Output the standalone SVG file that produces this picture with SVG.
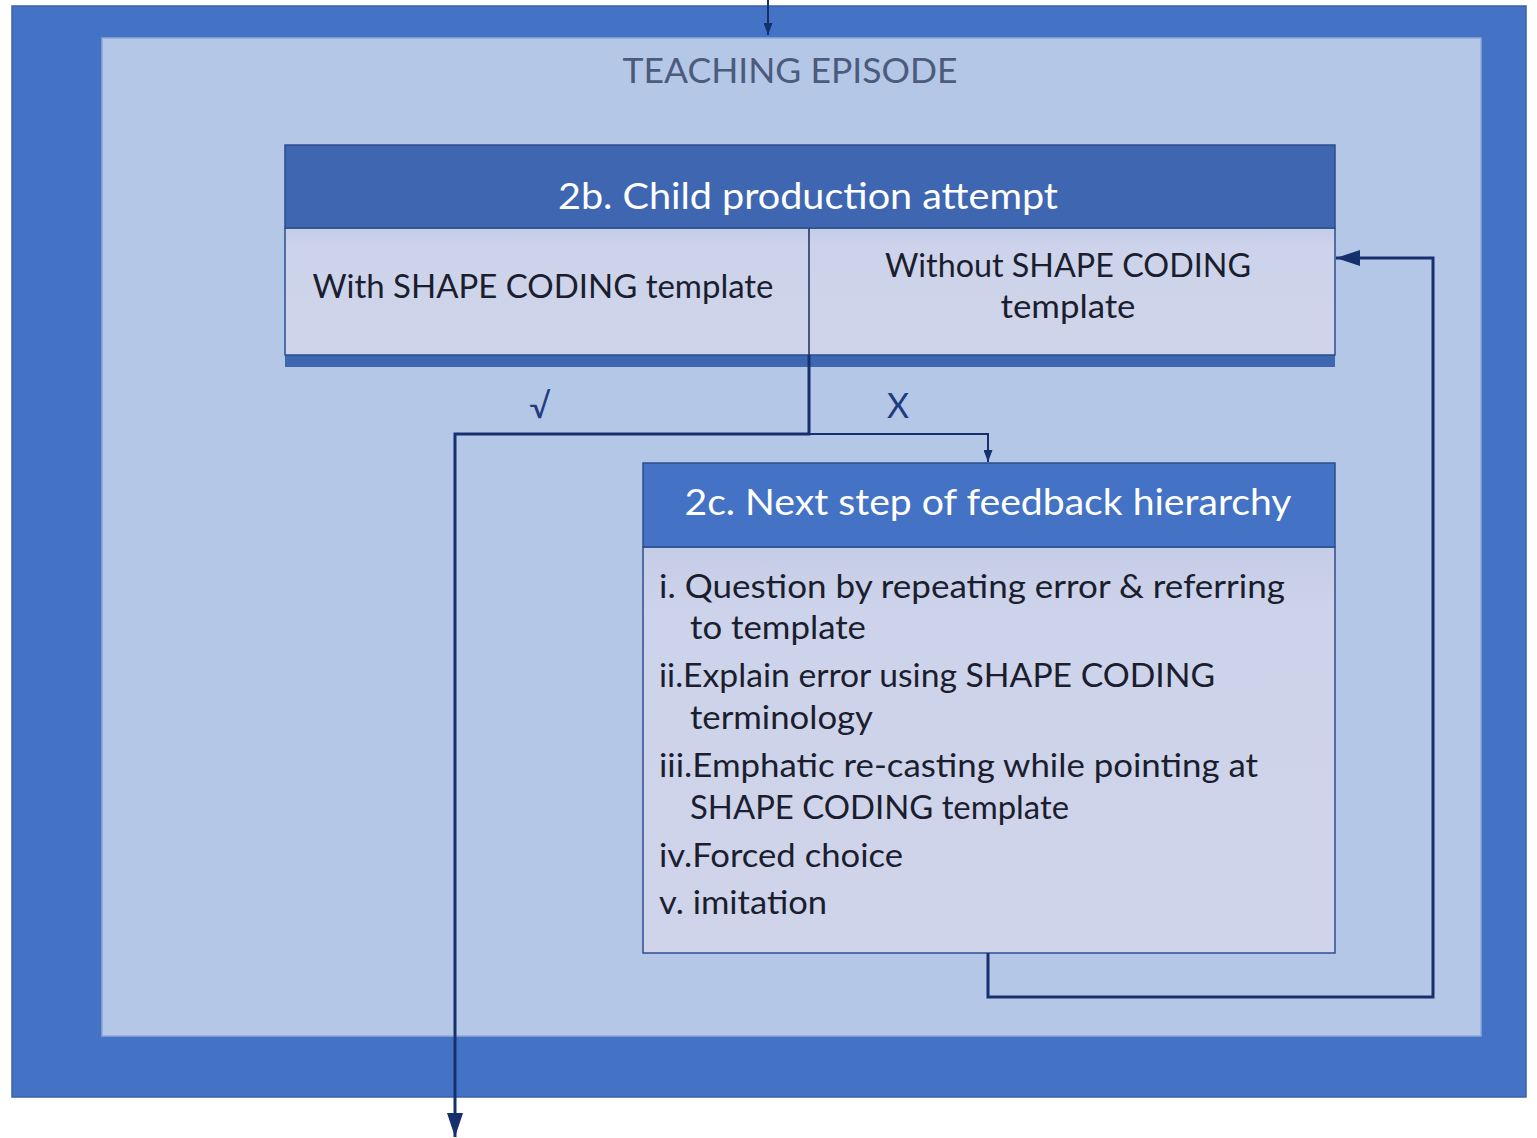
<svg xmlns="http://www.w3.org/2000/svg" width="1537" height="1138" viewBox="0 0 1537 1138">
  <style>
    .hdr { fill: #3F67B1; stroke: #2C4E8E; stroke-width: 1.5; }
    .body { fill: url(#bodyGrad); stroke: #2C4E8E; stroke-width: 1.5; }
    .htext { font-family: Lato, "Open Sans", sans-serif; font-size: 36px; fill: #FFFFFF; }
    .btext { font-family: Lato, "Open Sans", sans-serif; font-size: 32px; fill: #1B1E2E; }
    .wire { fill: none; stroke: #16306E; stroke-width: 3; }
    .thin { fill: none; stroke: #16306E; stroke-width: 2; }
    .lbl { font-family: Lato, "Open Sans", sans-serif; font-size: 34px; fill: #1F3B82; }
  </style>
  <defs>
    <linearGradient id="bodyGrad" x1="0" y1="0" x2="0" y2="1">
      <stop offset="0" stop-color="#C5CCE6"/>
      <stop offset="0.15" stop-color="#CDD3EA"/>
      <stop offset="1" stop-color="#CFD4EA"/>
    </linearGradient>
    <marker id="arrow" viewBox="0 0 24 16" refX="24" refY="8" markerWidth="24" markerHeight="16" orient="auto" markerUnits="userSpaceOnUse">
      <path d="M0,0 L24,8 L0,16 z" fill="#16306E"/>
    </marker>
    <marker id="arrowSmall" viewBox="0 0 12 9" refX="12" refY="4.5" markerWidth="12" markerHeight="9" orient="auto" markerUnits="userSpaceOnUse">
      <path d="M0,0 L12,4.5 L0,9 z" fill="#16306E"/>
    </marker>
  </defs>

  <rect width="1537" height="1138" fill="#FFFFFF"/>

  <!-- outer frame -->
  <g id="frame">
    <rect x="12" y="6" width="1514" height="1091" fill="#4472C4" stroke="#3A62A8" stroke-width="1.5"/>
    <rect x="102" y="38" width="1379" height="998" fill="#B4C7E7" stroke="#8FA8D6" stroke-width="1.5"/>
    <text x="790" y="83" text-anchor="middle" font-family="Lato, 'Open Sans', sans-serif" font-size="34" fill="#4B5B7C" textLength="335" lengthAdjust="spacingAndGlyphs">TEACHING EPISODE</text>
  </g>

  <!-- 2b: child production attempt -->
  <g id="node-2b">
    <rect x="285" y="355" width="1050" height="12" fill="#3F67B1"/>
    <rect class="body" x="285" y="228" width="1050" height="127"/>
    <line x1="809" y1="228" x2="809" y2="355" stroke="#1B2D5E" stroke-width="1.5"/>
    <rect class="hdr" x="285" y="145" width="1050" height="83"/>
    <text class="htext" x="808" y="209" text-anchor="middle" textLength="500" lengthAdjust="spacingAndGlyphs">2b. Child production attempt</text>
    <text class="btext" x="543" y="298" text-anchor="middle" textLength="461" lengthAdjust="spacingAndGlyphs">With SHAPE CODING template</text>
    <text class="btext" x="1068" y="277" text-anchor="middle" textLength="366" lengthAdjust="spacingAndGlyphs">Without SHAPE CODING</text>
    <text class="btext" x="1068" y="318" text-anchor="middle" textLength="135" lengthAdjust="spacingAndGlyphs">template</text>
  </g>

  <!-- 2c: next step of feedback hierarchy -->
  <g id="node-2c">
    <rect class="body" x="643" y="547" width="692" height="406"/>
    <rect class="hdr" x="643" y="463" width="692" height="84" style="fill:#4472C4"/>
    <text class="htext" x="988" y="515" text-anchor="middle" textLength="607" lengthAdjust="spacingAndGlyphs">2c. Next step of feedback hierarchy</text>
    <text class="btext" x="659" y="598" textLength="626" lengthAdjust="spacingAndGlyphs">i.  Question by repeating error &amp; referring</text>
    <text class="btext" x="690" y="639" textLength="176" lengthAdjust="spacingAndGlyphs">to template</text>
    <text class="btext" x="659" y="687" textLength="556" lengthAdjust="spacingAndGlyphs">ii.Explain error using SHAPE CODING</text>
    <text class="btext" x="690" y="729" textLength="183" lengthAdjust="spacingAndGlyphs">terminology</text>
    <text class="btext" x="659" y="777" textLength="599" lengthAdjust="spacingAndGlyphs">iii.Emphatic re-casting while pointing at</text>
    <text class="btext" x="690" y="819" textLength="379" lengthAdjust="spacingAndGlyphs">SHAPE CODING template</text>
    <text class="btext" x="659" y="867" textLength="244" lengthAdjust="spacingAndGlyphs">iv.Forced choice</text>
    <text class="btext" x="659" y="914" textLength="168" lengthAdjust="spacingAndGlyphs">v. imitation</text>
  </g>

  <!-- connectors -->
  <g id="connectors">
    <line class="thin" x1="768" y1="0" x2="768" y2="35" marker-end="url(#arrowSmall)"/>
    <polyline class="wire" points="809,355 809,434 455,434 455,1137" marker-end="url(#arrow)"/>
    <polyline class="thin" points="809,434 988,434 988,462" marker-end="url(#arrowSmall)"/>
    <polyline class="wire" points="988,953 988,997 1433,997 1433,258 1336,258" marker-end="url(#arrow)"/>
    <text class="lbl" x="540" y="418" text-anchor="middle">√</text>
    <text class="lbl" x="898" y="418" text-anchor="middle">X</text>
  </g>
</svg>
